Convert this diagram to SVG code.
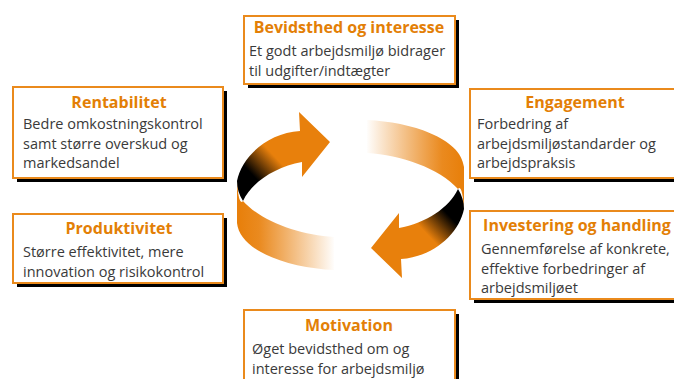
<svg xmlns="http://www.w3.org/2000/svg" width="674" height="379" viewBox="0 0 674 379">
<defs>
<style>
.box{fill:#fff;stroke:#EA8A1C;stroke-width:2}
.sh{fill:#000}
.t{font-family:"Open Sans","DejaVu Sans",sans-serif;font-weight:bold;font-size:16px;fill:#E37F06;text-anchor:middle}
.b{font-family:"Open Sans","DejaVu Sans",sans-serif;font-size:14.5px;fill:#3a3a3a}
</style>
<linearGradient id="fade" gradientUnits="userSpaceOnUse" x1="240" y1="0" x2="335" y2="0">
<stop offset="0" stop-color="#E8800C"/>
<stop offset="0.2" stop-color="#EA8A1F"/>
<stop offset="1" stop-color="#E8800C" stop-opacity="0"/>
</linearGradient>
<linearGradient id="twist" gradientUnits="userSpaceOnUse" x1="240" y1="196" x2="278" y2="160">
<stop offset="0" stop-color="#000"/>
<stop offset="0.45" stop-color="#000"/>
<stop offset="1" stop-color="#E8800C"/>
</linearGradient>
<g id="half">
<path d="M237,181 C238,196 240,205 243,201 C262,222 300,235 334,237 L334,270 C290,268 240,252 237,223 Z" fill="url(#fade)"/>
<path d="M237,181 C242,156 268,133 300,131 L299,112 L330,142 L302,177 L302,162 C275,167 252,182 243,201 C239,195 237,188 237,181 Z" fill="url(#twist)"/>
</g>
</defs>
<g id="cycle">
<use href="#half"/>
<use href="#half" transform="rotate(180 350.5 195)"/>
</g>
<g id="n1">
<rect class="sh" x="248" y="20" width="211" height="68"/>
<rect class="box" x="244" y="16" width="211" height="68"/>
<text class="t" x="349" y="33">Bevidsthed og interesse</text>
<text class="b" x="249" y="56">Et godt arbejdsmiljø bidrager</text>
<text class="b" x="249" y="76">til udgifter/indtægter</text>
</g>
<g id="n2">
<rect class="sh" x="17" y="91" width="210" height="91"/>
<rect class="box" x="13" y="87" width="210" height="91"/>
<text class="t" x="119" y="108">Rentabilitet</text>
<text class="b" x="23" y="129">Bedre omkostningskontrol</text>
<text class="b" x="23" y="149">samt større overskud og</text>
<text class="b" x="23" y="168">markedsandel</text>
</g>
<g id="n3">
<rect class="sh" x="474" y="93" width="210" height="89"/>
<rect class="box" x="470" y="89" width="210" height="89"/>
<text class="t" x="575" y="108">Engagement</text>
<text class="b" x="477" y="129">Forbedring af</text>
<text class="b" x="477" y="149">arbejdsmiljøstandarder og</text>
<text class="b" x="477" y="168">arbejdspraksis</text>
</g>
<g id="n4">
<rect class="sh" x="17" y="218" width="210" height="69"/>
<rect class="box" x="13" y="214" width="210" height="69"/>
<text class="t" x="119" y="234">Produktivitet</text>
<text class="b" x="23" y="257">Større effektivitet, mere</text>
<text class="b" x="23" y="277">innovation og risikokontrol</text>
</g>
<g id="n5">
<rect class="sh" x="474" y="215" width="210" height="88"/>
<rect class="box" x="470" y="211" width="210" height="88"/>
<text class="t" x="577" y="231">Investering og handling</text>
<text class="b" x="481" y="254">Gennemførelse af konkrete,</text>
<text class="b" x="481" y="274">effektive forbedringer af</text>
<text class="b" x="481" y="293">arbejdsmiljøet</text>
</g>
<g id="n6">
<rect class="sh" x="248" y="314" width="211" height="80"/>
<rect class="box" x="244" y="310" width="211" height="80"/>
<text class="t" x="349" y="331">Motivation</text>
<text class="b" x="252" y="354">Øget bevidsthed om og</text>
<text class="b" x="252" y="374">interesse for arbejdsmiljø</text>
</g>
</svg>
